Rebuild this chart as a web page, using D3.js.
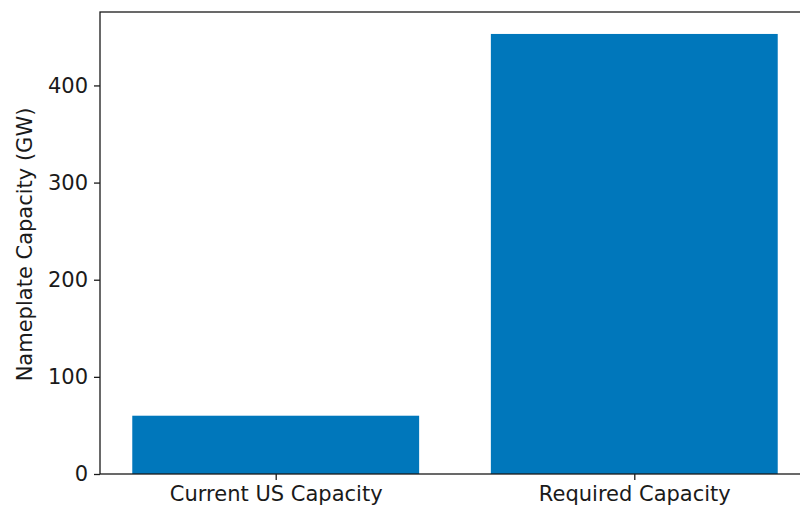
<!DOCTYPE html>
<html>
<head>
<meta charset="utf-8">
<script src="https://cdn.jsdelivr.net/npm/d3@7"></script>
<style>
  body { margin: 0; background: #fff; }
  text { font-family: "DejaVu Sans", sans-serif; fill: #1a1a1a; }
</style>
</head>
<body>
<svg id="chart" width="800" height="511"></svg>
<script>
// chart data
var categories = ['Current US Capacity', 'Required Capacity'];
var capacity = [60, 453];
var yTicks = [0, 100, 200, 300, 400];

var svg = d3.select('#chart');
var m = { left: 100, top: 12, bottom: 474, right: 810 };

// matplotlib-like x range: bars at 0 and 1, width 0.8, small margins
var x = d3.scaleLinear().domain([-0.49, 1.49]).range([m.left, m.right]);
var y = d3.scaleLinear().domain([0, 475.6]).range([m.bottom, m.top]);

svg.append('g')
  .selectAll('rect')
  .data(capacity)
  .enter().append('rect')
  .attr('x', function(d, i) { return x(i - 0.4); })
  .attr('width', function(d, i) { return x(i + 0.4) - x(i - 0.4); })
  .attr('y', function(d) { return y(d); })
  .attr('height', function(d) { return y(0) - y(d); })
  .attr('fill', '#0077bb');

// frame
svg.append('rect')
  .attr('x', m.left).attr('y', m.top)
  .attr('width', m.right - m.left).attr('height', m.bottom - m.top)
  .attr('fill', 'none').attr('stroke', '#1a1a1a').attr('stroke-width', 1.3);

// y axis
var yAxis = d3.axisLeft(y).tickValues(yTicks).tickSize(6).tickPadding(6).tickFormat(d3.format('d'));
var gy = svg.append('g').attr('transform', 'translate(' + m.left + ',0)').call(yAxis);
gy.select('.domain').remove();
gy.selectAll('line').attr('stroke', '#1a1a1a').attr('stroke-width', 1.3);
gy.selectAll('text').style('font-size', '21px').style('font-family', 'DejaVu Sans').attr('fill', '#1a1a1a');

// x axis
var xAxis = d3.axisBottom(x).tickValues([0, 1]).tickSize(6).tickPadding(6)
  .tickFormat(function(d) { return categories[d]; });
var gx = svg.append('g').attr('transform', 'translate(0,' + m.bottom + ')').call(xAxis);
gx.select('.domain').remove();
gx.selectAll('line').attr('stroke', '#1a1a1a').attr('stroke-width', 1.3);
gx.selectAll('text').style('font-size', '21px').style('font-family', 'DejaVu Sans').attr('fill', '#1a1a1a');

// y label
svg.append('text')
  .attr('transform', 'translate(32,' + 244.5 + ') rotate(-90)')
  .attr('text-anchor', 'middle')
  .style('font-size', '21px')
  .text('Nameplate Capacity (GW)');
</script>
</body>
</html>
